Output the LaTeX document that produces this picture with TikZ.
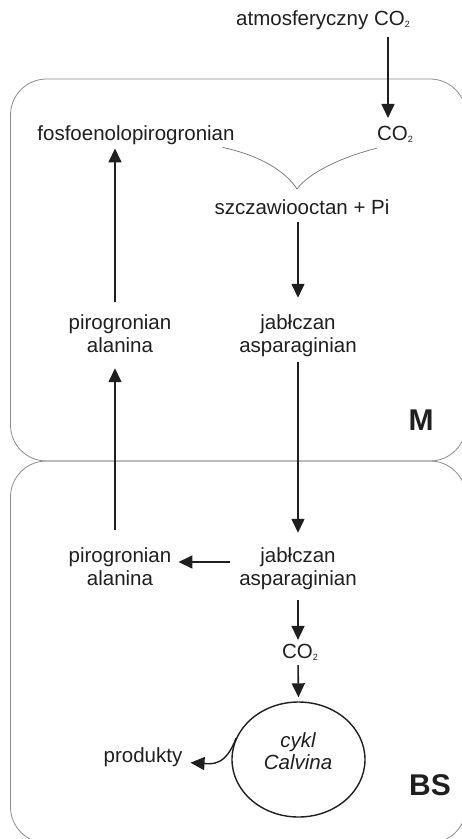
\documentclass[tikz,border=0pt]{standalone}
\usepackage{fontspec}
\setmainfont{Liberation Sans}
\usetikzlibrary{arrows.meta,shapes.geometric}
% small, lowered index digit (as in CO2)
\newcommand\lowsub[1]{\raisebox{-2pt}{\fontsize{9}{9}\selectfont #1}}

\begin{document}
\begin{tikzpicture}[x=1pt,y=-1pt,
  lbl/.style={inner sep=0pt, font=\fontsize{20.5}{23}\selectfont, text=black!88, align=center},
  tag/.style={inner sep=0pt, font=\fontsize{30}{30}\selectfont\bfseries, text=black!88},
  arr/.style={line width=1.6pt, draw=black!88, -{Triangle[width=13pt,length=14pt]}},
  cell/.style={draw=black!45, line width=0.8pt, rounded corners=36pt},
  link/.style={draw=black!55, line width=0.7pt}]
\useasboundingbox (0,0) rectangle (462,839);

% the two cells: mesophyll (M) and bundle sheath (BS)
\draw[cell] (10.5,79) rectangle (466,461);
\draw[cell] (10.5,461) rectangle (466,843);

% labels
\node[lbl, anchor=base] (atm)  at (323,25)  {atmosferyczny CO\lowsub{2}};
\node[lbl, anchor=base] (co2m) at (395,140) {CO\lowsub{2}};
\node[lbl, anchor=base] (pep)  at (136,140) {fosfoenolopirogronian};
\node[lbl, anchor=base] (oaa)  at (302,214) {szczawiooctan + Pi};
\node[lbl] (malM) at (298,336) {jabłczan\\asparaginian};
\node[lbl] (pyrM) at (120,334) {pirogronian\\alanina};
\node[lbl] (malB) at (298,569) {jabłczan\\asparaginian};
\node[lbl] (pyrB) at (120,567) {pirogronian\\alanina};
\node[lbl, anchor=base] (co2b) at (300,658) {CO\lowsub{2}};
\node[draw, ellipse, line width=1.4pt, draw=black!88, inner sep=0pt,
      minimum width=133pt, minimum height=115pt] (cyc) at (298.5,759.5) {};
\node[lbl, font=\fontsize{20.5}{22}\selectfont\itshape] (cycT) at (298,751.5) {cykl\\Calvina};
\node[lbl, anchor=base] (prod) at (143,762) {produkty};
\node[tag, anchor=base] (mtag)  at (421,430) {M};
\node[tag, anchor=base] (bstag) at (430,795) {BS};

% columns of the vertical arrows
\coordinate (xr) at (388,0);
\coordinate (xc) at (298,0);
\coordinate (xl) at (115,0);
\coordinate (yh) at (0,562);
\coordinate (join) at (297,189);

% carboxylation: PEP + CO2 -> oxaloacetate
\draw[link] ([shift={(-12,3)}]pep.south east) .. controls (262,156) and (286,172) .. (join);
\draw[link] ([shift={(0,6)}]co2m.south west) .. controls (338,158) and (308,174) .. (join);

\draw[arr, shorten <=7.5pt, shorten >=7.5pt] (atm.south -| xr) -- (co2m.north -| xr);
\draw[arr, shorten <=8pt, shorten >=17pt] (oaa.south -| xc) -- (malM.north -| xc);
\draw[arr, shorten <=5pt, shorten >=15pt] (malM.south -| xc) -- (malB.north -| xc);
\draw[arr, shorten <=18pt, shorten >=15pt] (pyrB.north -| xl) -- (pyrM.south -| xl);
\draw[arr, shorten <=13pt, shorten >=4pt] (pyrM.north -| xl) -- (pep.south -| xl);
\draw[arr, shorten <=9pt, shorten >=7pt] (malB.west |- yh) -- (pyrB.east |- yh);
\draw[arr, shorten <=10pt, shorten >=3.6pt] (malB.south -| xc) -- (co2b.north -| xc);
\draw[arr, shorten <=5pt, shorten >=4pt] (co2b.south -| xc) -- (cyc.north);
\draw[arr, line width=1.4pt] (cyc.161) .. controls (226,766) and (212,764) .. ([shift={(8,6)}]prod.east);
\end{tikzpicture}
\end{document}
